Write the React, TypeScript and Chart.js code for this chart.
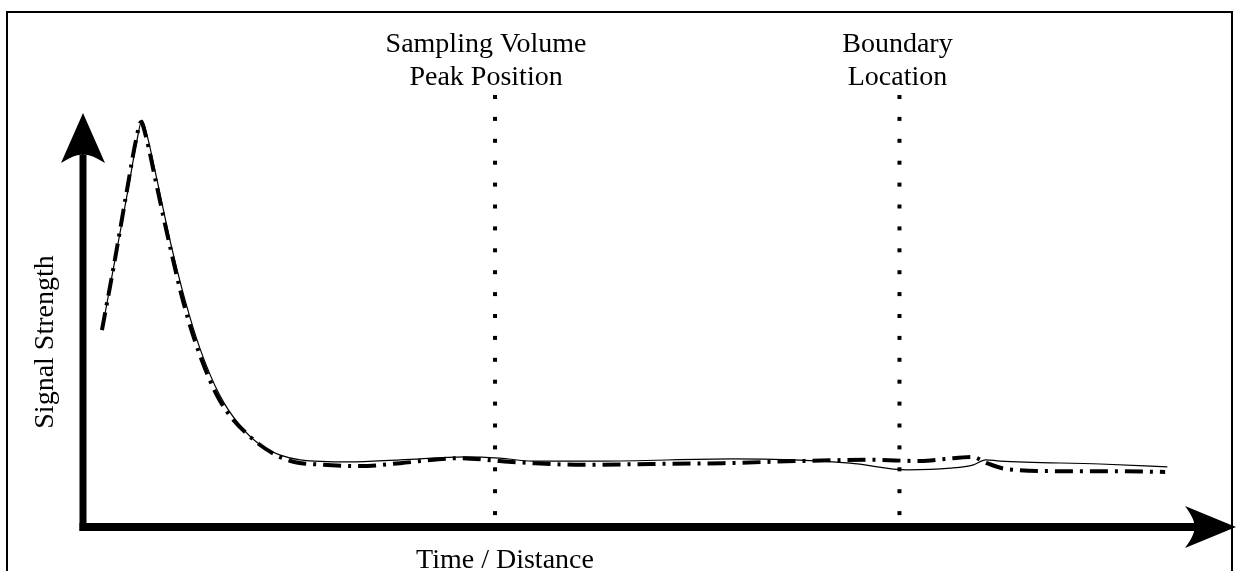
import React, { useEffect, useRef } from "react";
import { Chart, registerables } from "chart.js";

Chart.register(...registerables);

// Solid curve (measured signal)
const solidX = [1.81, 2.9, 4.08, 4.9, 5.35, 5.81, 6.72, 7.89, 9.26, 10.6, 12.4, 14.2, 16.1, 17.9, 19.7, 24.2, 28.8, 34.8, 37.8, 40.8, 46.9, 59.0, 69.6, 74.8, 78.7, 80.8, 81.9, 83.2, 92.3, 98.4];
const solidY = [48.1, 63.6, 80.2, 92.1, 96.9, 93.3, 82.6, 68.3, 54.0, 42.6, 31.4, 24.3, 19.5, 17.1, 16.0, 15.5, 16.0, 16.7, 16.4, 15.7, 15.7, 16.2, 15.2, 13.6, 14.0, 14.8, 16.0, 15.7, 15.0, 14.3];

// Dash-dot curve (model signal)
const dashX = [1.72, 2.81, 3.99, 4.81, 5.26, 5.72, 6.62, 7.8, 9.17, 10.6, 12.4, 15.2, 18.5, 21.8, 25.1, 28.8, 31.8, 34.2, 37.8, 40.8, 45.4, 51.5, 58.1, 64.8, 71.4, 76.0, 78.2, 80.7, 82.0, 83.8, 88.7, 94.1, 98.2];
const dashY = [46.9, 62.4, 80.2, 92.1, 96.4, 92.9, 82.1, 67.9, 52.9, 41.0, 30.2, 21.4, 16.0, 14.8, 14.5, 15.2, 16.0, 16.4, 15.7, 15.2, 14.8, 15.0, 15.2, 15.7, 16.0, 15.7, 16.2, 16.7, 15.2, 13.8, 13.3, 13.3, 13.1];

// Vertical marker positions (x units) and their labels
const markerX = [37.39, 74.09];
const markerLabels = [["Sampling Volume", "Peak Position"], ["Boundary", "Location"]];
const xTitle = "Time / Distance";
const yTitle = "Signal Strength";

const FONT = '28px "Liberation Serif", "Times New Roman", serif';

const decorPlugin = {
  id: "decor",
  beforeDatasetsDraw(chart: any) {
    const ctx = chart.ctx as CanvasRenderingContext2D;
    const xs = chart.scales.x;
    const ys = chart.scales.y;
    const x0 = xs.getPixelForValue(0);
    const y0 = ys.getPixelForValue(0);
    ctx.save();
    // frame
    ctx.strokeStyle = "#000";
    ctx.lineWidth = 2;
    ctx.strokeRect(7, 12, 1225, 600);
    ctx.fillStyle = "#000";
    // y axis shaft
    ctx.fillRect(x0 - 3.5, 155, 7, y0 + 4 - 155);
    // x axis shaft
    ctx.fillRect(x0 - 3.5, y0 - 4, 1195 - (x0 - 3.5), 8);
    // y arrowhead
    ctx.beginPath();
    ctx.moveTo(x0, 113);
    ctx.lineTo(x0 + 22, 163);
    ctx.quadraticCurveTo(x0 + 6, 153, x0, 155);
    ctx.quadraticCurveTo(x0 - 6, 153, x0 - 22, 163);
    ctx.closePath();
    ctx.fill();
    // x arrowhead
    ctx.beginPath();
    ctx.moveTo(1236, y0);
    ctx.lineTo(1185, y0 + 21);
    ctx.quadraticCurveTo(1196, y0 + 6, 1194, y0);
    ctx.quadraticCurveTo(1196, y0 - 6, 1185, y0 - 21);
    ctx.closePath();
    ctx.fill();
    // dotted markers
    markerX.forEach((mx) => {
      const px = xs.getPixelForValue(mx);
      for (let k = 0; k < 20; k++) {
        const cy = 97 + k * 21.9;
        ctx.fillRect(px - 2, cy - 2, 4, 4);
      }
    });
    // labels
    ctx.font = FONT;
    ctx.textAlign = "center";
    ctx.textBaseline = "alphabetic";
    markerLabels.forEach((lines, i) => {
      const px = xs.getPixelForValue(markerX[i]) - (i === 0 ? 9 : 2);
      lines.forEach((t, j) => ctx.fillText(t, px, 52 + j * 33));
    });
    ctx.fillText(xTitle, 505, 568);
    ctx.translate(53, 342);
    ctx.rotate(-Math.PI / 2);
    ctx.fillText(yTitle, 0, 0);
    ctx.restore();
  },
};

export default function App() {
  const ref = useRef<HTMLCanvasElement>(null);
  useEffect(() => {
    if (!ref.current) return;
    const chart = new Chart(ref.current, {
      type: "line",
      data: {
        datasets: [
          {
            label: "Measured",
            data: solidX.map((x, i) => ({ x, y: solidY[i] })),
            borderColor: "#000",
            borderWidth: 1.2,
            pointRadius: 0,
            cubicInterpolationMode: "monotone",
            fill: false,
          },
          {
            label: "Model",
            data: dashX.map((x, i) => ({ x, y: dashY[i] })),
            borderColor: "#000",
            borderWidth: 4,
            borderDash: [18, 7, 3, 7],
            pointRadius: 0,
            cubicInterpolationMode: "monotone",
            fill: false,
          },
        ],
      },
      options: {
        responsive: false,
        animation: false,
        events: [],
        layout: { padding: { left: 83, right: 53, top: 107, bottom: 44 } },
        plugins: { legend: { display: false }, tooltip: { enabled: false }, title: { display: false } },
        scales: {
          x: { type: "linear", min: 0, max: 100, display: false },
          y: { type: "linear", min: 0, max: 100, display: false },
        },
      },
      plugins: [decorPlugin],
    } as any);
    return () => chart.destroy();
  }, []);
  return (
    <div style={{ position: "absolute", left: 0, top: 0, width: 1238, height: 571, background: "#fff" }}>
      <canvas ref={ref} width={1238} height={571} style={{ display: "block" }} />
    </div>
  );
}
